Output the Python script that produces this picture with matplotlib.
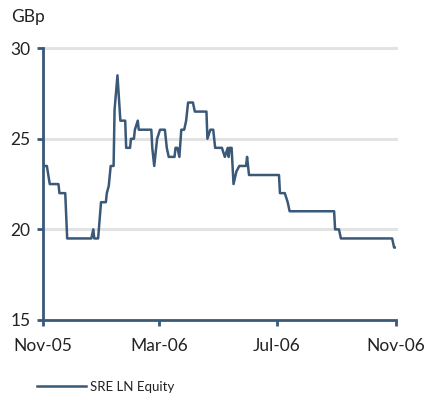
import matplotlib.pyplot as plt
import pandas as pd

plt.rcParams['font.family'] = ['Lato', 'DejaVu Sans']

# SRE LN Equity share price (GBp), day offsets from 1 Nov 2005
days = [0, 0, 4, 7, 16, 17, 23, 25, 50, 52, 53, 57, 60, 65, 66, 68, 70, 73,
        74, 77, 80, 85, 86, 90, 91, 94, 95, 98, 99, 112, 113, 115, 118, 121,
        126, 128, 130, 136, 137, 139, 141, 143, 146, 148, 150, 155, 157, 169,
        170, 173, 176, 178, 185, 188, 191, 192, 193, 195, 197, 200, 203, 210,
        211, 213, 244, 245, 250, 253, 255, 301, 302, 306, 308, 361, 363, 365]
price = [30.0, 23.5, 23.5, 22.5, 22.5, 22.0, 22.0, 19.5, 19.5, 20.0, 19.5,
         19.5, 21.5, 21.5, 22.0, 22.4, 23.5, 23.5, 26.6, 28.5, 26.0, 26.0,
         24.5, 24.5, 25.0, 25.0, 25.5, 26.0, 25.5, 25.5, 24.5, 23.5, 25.0,
         25.5, 25.5, 24.5, 24.0, 24.0, 24.5, 24.5, 24.0, 25.5, 25.5, 26.0,
         27.0, 27.0, 26.5, 26.5, 25.0, 25.5, 25.5, 24.5, 24.5, 24.0, 24.5,
         24.0, 24.5, 24.5, 22.5, 23.2, 23.5, 23.5, 24.0, 23.0, 23.0, 22.0,
         22.0, 21.5, 21.0, 21.0, 20.0, 20.0, 19.5, 19.5, 19.0, 19.0]

tick_dates = ['2005-11-01', '2006-03-01', '2006-07-01', '2006-11-01']
tick_labels = ['Nov-05', 'Mar-06', 'Jul-06', 'Nov-06']
y_ticks = [15, 20, 25, 30]

start = pd.Timestamp('2005-11-01')
dates = start + pd.to_timedelta(days, unit='D')

navy = '#3a5878'
text_col = '#222222'

fig = plt.figure(figsize=(4.24, 3.98), dpi=100)
ax = fig.add_axes([0.1014, 0.196, 0.8326, 0.683])

for y in y_ticks[1:]:
    ax.axhline(y, color='#e3e3e3', lw=2.2, zorder=1, clip_on=False)

ax.plot(dates, price, color=navy, lw=1.8, label='SRE LN Equity', zorder=3)

ax.set_xlim(pd.Timestamp(tick_dates[0]), pd.Timestamp(tick_dates[-1]))
ax.set_ylim(15, 30)
ax.set_xticks([pd.Timestamp(d) for d in tick_dates])
ax.set_xticklabels(tick_labels)
ax.set_yticks(y_ticks)

for side in ['top', 'right']:
    ax.spines[side].set_visible(False)
for side in ['left', 'bottom']:
    ax.spines[side].set_color(navy)
    ax.spines[side].set_linewidth(2)

ax.tick_params(axis='both', colors=navy, width=2, length=4, labelsize=12.5,
               labelcolor=text_col)
ax.tick_params(axis='x', pad=9)
ax.tick_params(axis='y', pad=5)

fig.text(0.026, 0.957, 'GBp', fontsize=12.5, color=text_col, va='center')

ax.legend(loc='center left', bbox_to_anchor=(-0.05, -0.245), frameon=False,
          fontsize=9.5, handlelength=3.7, handletextpad=0.3,
          labelcolor=text_col)

fig.savefig('out.png', dpi=100)
